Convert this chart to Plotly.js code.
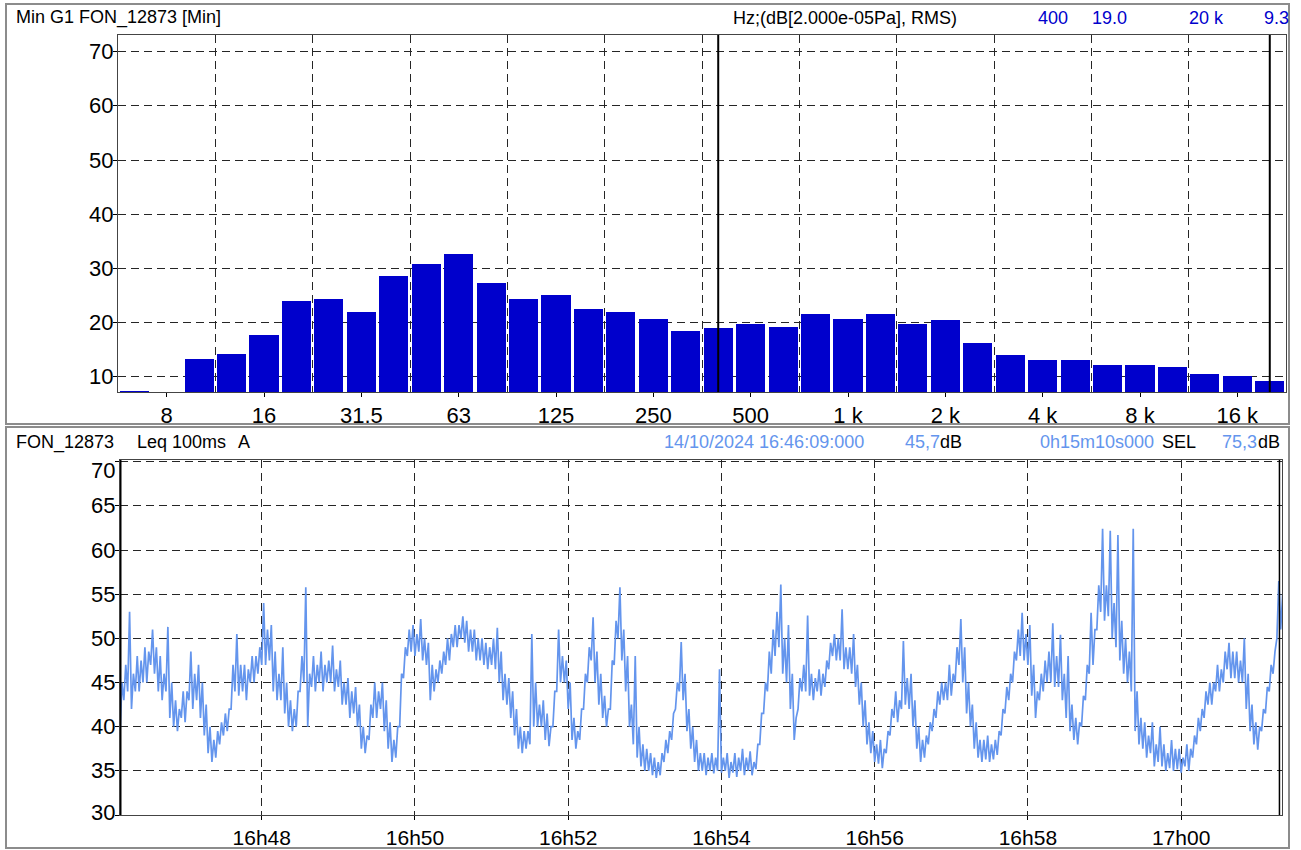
<!DOCTYPE html>
<html>
<head>
<meta charset="utf-8">
<script src="https://cdn.plot.ly/plotly-3.0.1.min.js"></script>
<style>
html,body{margin:0;padding:0;background:#fff;}
#chart{width:1301px;height:850px;}
</style>
</head>
<body>
<div id="chart"></div>
<script>
// ---------- DATA ----------
// Third-octave band centres (Hz) of the Min spectrum
const bands = ['6.3','8','10','12.5','16','20','25','31.5','40','50','63','80','100','125','160','200','250','315','400','500','630','800','1 k','1.25 k','1.6 k','2 k','2.5 k','3.15 k','4 k','5 k','6.3 k','8 k','10 k','12.5 k','16 k','20 k'];
// Level per band, dB re 2e-5 Pa
const spectrumLevels = [7.5,7.2,13.4,14.3,17.8,24.0,24.4,22.0,28.6,30.8,32.6,27.3,24.4,25.1,22.6,22.0,20.7,18.5,19.0,19.8,19.3,21.6,20.7,21.6,19.8,20.5,16.3,14.1,13.2,13.2,12.3,12.3,11.9,10.5,10.1,9.3];
const freqTickLabels = ['8','16','31.5','63','125','250','500','1 k','2 k','4 k','8 k','16 k'];
const spectrumYTicks = [10,20,30,40,50,60,70];
const cursorBands = ['400','20 k'];

// Leq 100ms A time history from 16:46:09, read as alternating low / high
// levels of the noisy trace, one value every 1.5 s
const levelStart = '2024-10-14T16:46:09Z';
const levelEnd = '2024-10-14 17:01:19';
const levelStepSeconds = 1.5;
const levelYTicks = [30,35,40,45,50,55,60,65,70];
const levels = [
 39,45, 43,47, 44,53, 42,46, 44,48, 44,47.5, 45,49, 45,48.5, 47,51, 46,49,
 44,48, 43,46, 44,51.3, 41,45, 40,43, 39.5,42, 41,44, 40.5,44, 43,48.5, 42,46,
 43,47, 41,45, 39,42.5, 37,40, 36,38.5, 36.5,39.5, 38,40.5, 39,41.5, 39.5,42, 42,47,
 44,50.5, 43.5,47, 44,47, 43,46.5, 45,48, 45,48, 46,49, 47,54, 47,51, 47.5,51.5,
 44,48.5, 43,46, 43,49, 41.5,45, 40,43, 39.5,42, 40,44, 44,48, 45,55.8, 40,46,
 44.5,48, 44,47, 45,48.5, 44,47, 45,47.5, 45,49.2, 44,46.5, 44.5,47.5, 42.5,45, 42.5,45.5,
 41,44, 41.5,44.5, 40,42.5, 37.5,40, 37,39, 38.5,42.5, 41,45, 41,44, 42,45, 39.5,43,
 37.5,40.5, 36,38.5, 36.5,40, 40,46, 45.5,49, 48,51, 48.5,51.5, 48,50.5, 48.5,52.2, 47.5,50,
 47,49.5, 43,47, 44,46.5, 45,47.5, 46,48.5, 47,50, 47.5,50.5, 49,51.5, 49,51.5, 50,52.5,
 49.5,52, 48.5,51, 48.5,51, 47.5,50, 47.5,50, 47,49.5, 46.5,49, 47,50, 46.5,51.2, 45,48.5,
 43,46, 42.5,45.5, 41,44, 39,42, 37.5,40, 37,39.5, 37.5,39.5, 38,50.5, 40,45, 40,42.5,
 40,43, 38.5,41.5, 37.8,40, 40,44, 44,51, 45,48, 45,47.5, 42,45, 38.5,41, 37.5,39.5,
 38.5,42, 42,46, 45,49, 47.5,52.4, 45,48.5, 42.5,46, 41,43.5, 40,42, 42,47.5, 47,52,
 50,55.8, 47.5,51, 44,48, 40,42.5, 38,48, 36.5,40, 35.5,38, 35,37.5, 35,37, 34.5,36.5,
 34.2,36, 34.5,37, 36,38.5, 37,39.5, 38.5,41.5, 42,45, 44,49.6, 43,46, 39.5,42, 37.5,40,
 36,38.5, 35,37, 35,37, 34.5,36.5, 35,37, 34.7,36.5, 35,46.5, 34.8,36.5, 35,37, 34.2,36,
 34.8,37, 34.3,36.5, 35,37.5, 34.5,36.5, 35,37.2, 34.5,36, 35.2,38, 38,41.5, 41.5,45, 44,48.5,
 46,51, 48,53, 49,56.1, 46,50, 45,51.5, 42,46, 38.5,41, 42,45.5, 44,47, 44,52.6,
 43.5,46, 43,45.5, 44,46.5, 43.5,46, 44.5,47.5, 46.5,49.5, 48,50.5, 47.5,50, 47.5,53.3, 46.5,49,
 46.5,49, 46,50.5, 44.5,47, 42.5,45, 40,43, 38,40.5, 37,39.5, 36,38, 35.8,38.5, 35.3,37.5,
 37,39.5, 39,42, 41,44, 40.5,43, 42,49.7, 42.5,45.5, 42,46, 40,43, 37.5,40, 36,38.5,
 36.5,39, 38,40.5, 39.5,42, 41,44, 42.5,45, 43,45, 43,47, 43.5,46, 45,49, 47,52.2,
 45,49, 41.5,45, 40,42.5, 37.5,40.5, 36.5,38.5, 36,38.5, 36.3,39, 36,38, 36.3,38.5, 36.8,39.5,
 39,42, 41.5,44.5, 43,46, 45,48.5, 47.5,51, 48,52.9, 47.5,50.5, 47,51.5, 43.5,47, 41,44,
 43,46, 44,47.5, 45,48.5, 45,51.7, 44.5,48, 44.5,50.4, 43,46, 41,48, 39.5,42.5, 38.5,41,
 38,40.5, 40,43.5, 43,47, 46,52.9, 47,51, 51,56, 53,62.4, 52,56, 52.5,62.2, 50,54,
 49,61.7, 47.5,52, 46,50, 45,48.5, 44,62.4, 39.5,44, 38,41, 37.5,40.5, 36.5,39, 37,40.5,
 35.5,38, 36,40, 35.5,38, 35,37, 35.3,38.5, 35,37.5, 35.2,37.5, 34.8,36.5, 35.5,38, 35,37.5,
 36.5,39, 38,41, 39.5,42, 41,44, 42.5,45, 42.5,45, 44,47, 44,46.5, 45,48.5, 46.5,49.5,
 45.5,48.5, 45.5,48.5, 45,47.5, 45,50, 42,46, 39.5,42.5, 38,40.5, 37.4,40, 39.5,42, 41.5,44.5,
 44,47, 46,48.5, 50,56.5, 51,55
];

// Header texts
const topHeader = {title:'Min G1 FON_12873 [Min]', unit:'Hz;(dB[2.000e-05Pa], RMS)', values:['400','19.0','20 k','9.3']};
const bottomHeader = {name:'FON_12873', metric:'Leq 100ms', weight:'A', start:'14/10/2024 16:46:09:000', leq:'45,7', duration:'0h15m10s000', selLabel:'SEL', sel:'75,3', unit:'dB'};

// ---------- BUILD ----------
const W = 1301, H = 850;
const px = v => v / W;
const py = v => 1 - v / H;

const bandIndex = bands.map((b, i) => i);
const tickVals = freqTickLabels.map(l => bands.indexOf(l));

const t0 = Date.parse(levelStart);
const fmt = ms => new Date(ms).toISOString().replace('T', ' ').replace('Z', '');
const levelTimes = levels.map((v, i) => fmt(t0 + i * levelStepSeconds * 1000));
const startTime = levelTimes[0];

const FONT = 'Liberation Sans, Arial, Helvetica, sans-serif';
const gridDash = '8px,5px';
const gridColor = '#262626';
const BAR_BLUE = '#0000CC';
const LINE_BLUE = '#6495ED';

const traces = [
  {type:'bar', x: bandIndex, y: spectrumLevels, xaxis:'x', yaxis:'y',
   marker:{color: BAR_BLUE, line:{width:0}}, width:0.9, hoverinfo:'skip'},
  {type:'scatter', mode:'lines', x: levelTimes, y: levels, xaxis:'x2', yaxis:'y2',
   line:{color: LINE_BLUE, width:1.7}, hoverinfo:'skip'}
];

const baseAxis = {
  showline:true, mirror:true, linecolor:'#444', linewidth:1,
  ticks:'outside', ticklen:4, tickcolor:'#000', tickwidth:1,
  zeroline:false, fixedrange:true
};

const layout = {
  width: W, height: H,
  margin:{l:0, r:0, t:0, b:0},
  paper_bgcolor:'#fff', plot_bgcolor:'#fff',
  showlegend:false,
  font:{family: FONT, color:'#000'},
  bargap:0,
  xaxis: Object.assign({}, baseAxis, {
    domain:[px(118), px(1286)], anchor:'y',
    range:[-0.5, bands.length - 0.5],
    tickmode:'array', tickvals: tickVals, ticktext: freqTickLabels,
    tickfont:{family: FONT, size: 22, color:'#000'},
    showgrid:false,
    minor:{tick0:2.5, dtick:3, showgrid:true, gridcolor: gridColor, griddash: gridDash, gridwidth:1, ticks:''}
  }),
  yaxis: Object.assign({}, baseAxis, {
    domain:[py(392), py(35)], anchor:'x',
    range:[7.23, 73.05], tickmode:'array', tickvals: spectrumYTicks, showticklabels:false,
    showgrid:true, gridcolor: gridColor, griddash: gridDash, gridwidth:1
  }),
  xaxis2: Object.assign({}, baseAxis, {
    type:'date', domain:[px(120), px(1282)], anchor:'y2',
    range:[startTime, levelEnd],
    tick0:'2024-10-14 16:48:00', dtick:120000, tickformat:'%Hh%M',
    tickfont:{family: FONT, size: 21, color:'#000'},
    showgrid:true, gridcolor: gridColor, griddash: gridDash, gridwidth:1
  }),
  yaxis2: Object.assign({}, baseAxis, {
    domain:[py(815), py(460)], anchor:'x2',
    range:[30, 70.2], tickmode:'array', tickvals: levelYTicks, showticklabels:false,
    showgrid:true, gridcolor: gridColor, griddash: gridDash, gridwidth:1
  }),
  shapes: [
    // panel frames
    {type:'rect', xref:'paper', yref:'paper', x0:px(6), x1:px(1289), y0:py(424), y1:py(4), line:{color:'#8c8c8c', width:2}, layer:'below'},
    {type:'rect', xref:'paper', yref:'paper', x0:px(6), x1:px(1289), y0:py(848), y1:py(427), line:{color:'#8c8c8c', width:2}, layer:'below'},
    // spectrum cursors
    ...cursorBands.map(b => ({type:'line', xref:'x', yref:'y domain', x0: bands.indexOf(b), x1: bands.indexOf(b), y0:0, y1:1, line:{color:'#000', width:2}})),
    // time cursors at start and end of the record
    {type:'line', xref:'x2', yref:'y2 domain', x0:startTime, x1:startTime, y0:0, y1:1, line:{color:'#000', width:3}},
    {type:'line', xref:'x2', yref:'y2 domain', x0:'2024-10-14 17:01:17', x1:'2024-10-14 17:01:17', y0:0, y1:1, line:{color:'#000', width:1.5}}
  ],
  annotations: []
};

// y tick labels, placed on the axes' own scales, hugging the frame
spectrumYTicks.forEach(v => layout.annotations.push({text: String(v), xref:'paper', yref:'y', x: px(114), y: v,
  xanchor:'right', yanchor:'middle', showarrow:false, borderpad:0,
  font:{family: FONT, size:22, color:'#000'}}));
levelYTicks.forEach((v, i) => layout.annotations.push({text: String(v), xref:'paper', yref:'y2', x: px(116), y: v,
  xanchor:'right', yanchor:'middle', showarrow:false, borderpad:0,
  yshift: (i === levelYTicks.length - 1) ? -9 : (i === 0 ? 3 : 0),
  font:{family: FONT, size:22, color:'#000'}}));

function note(text, xLeft, yMid, color){
  layout.annotations.push({text: text, xref:'paper', yref:'paper', x: px(xLeft), y: py(yMid),
    xanchor:'left', yanchor:'middle', showarrow:false, borderpad:0,
    font:{family: FONT, size:18, color: color}});
}
// top header
note(topHeader.title, 15, 18, '#000');
note(topHeader.unit, 732, 18, '#000');
note(topHeader.values[0], 1037, 18, BAR_BLUE);
note(topHeader.values[1], 1091, 18, BAR_BLUE);
note(topHeader.values[2], 1188, 18, BAR_BLUE);
note(topHeader.values[3], 1263, 18, BAR_BLUE);
// bottom header
note(bottomHeader.name, 15, 442, '#000');
note(bottomHeader.metric, 136, 442, '#000');
note(bottomHeader.weight, 237, 442, '#000');
note(bottomHeader.start, 663, 442, LINE_BLUE);
note(bottomHeader.leq, 904, 442, LINE_BLUE);
note(bottomHeader.unit, 939, 442, '#000');
note(bottomHeader.duration, 1039, 442, LINE_BLUE);
note(bottomHeader.selLabel, 1161, 442, '#000');
note(bottomHeader.sel, 1221, 442, LINE_BLUE);
note(bottomHeader.unit, 1257, 442, '#000');

Plotly.newPlot('chart', traces, layout, {staticPlot:true, displayModeBar:false});
</script>
</body>
</html>
